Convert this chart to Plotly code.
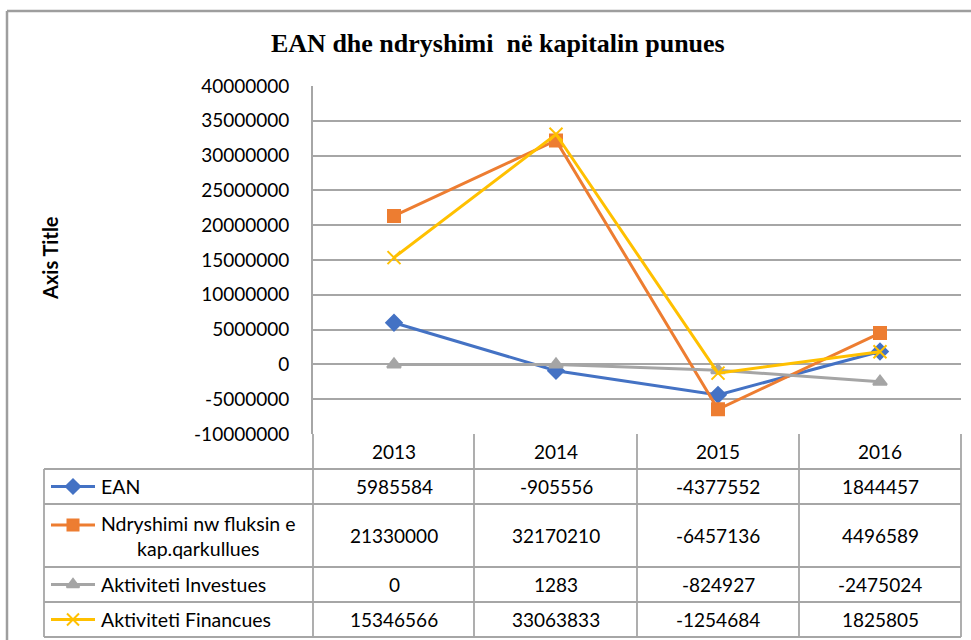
import plotly.graph_objects as go

# ---------------- data ----------------
years = ["2013", "2014", "2015", "2016"]
series_names = ["EAN", "Ndryshimi nw fluksin e kap.qarkullues",
                "Aktiviteti Investues", "Aktiviteti Financues"]
table_labels = ["EAN", "Ndryshimi nw fluksin e<br>kap.qarkullues",
                "Aktiviteti Investues", "Aktiviteti Financues"]
ean = [5985584, -905556, -4377552, 1844457]
ndryshimi = [21330000, 32170210, -6457136, 4496589]
investues = [0, 1283, -824927, -2475024]
financues = [15346566, 33063833, -1254684, 1825805]
y_ticks = [40000000, 35000000, 30000000, 25000000, 20000000, 15000000,
           10000000, 5000000, 0, -5000000, -10000000]
y_tick_labels = [str(v) for v in y_ticks]

title_text = "EAN dhe ndryshimi  në kapitalin punues"
axis_title = "Axis Title"

# ---------------- styling / layout ----------------
W, H = 971, 640
colors = ["#4472C4", "#ED7D31", "#A5A5A5", "#FFC000"]
symbols = ["diamond", "square", "triangle-up", "x-thin-open"]
msizes = [12, 12, 12, 13]
grid_col = "#A6A6A6"
font_fam = "Lato, 'Open Sans', sans-serif"
FS = 19

def px(x):
    return x / W

def py(y):
    return 1 - y / H

plot_l, plot_r, plot_t, plot_b = 313, 961, 86, 434
tab_l = 44
row_lines = [469, 504, 567, 602, 637]
col_lines = [313, 474, 637, 799, 961]

series = [ean, ndryshimi, investues, financues]
xs = list(range(len(years)))

fig = go.Figure()
for name, vals, c, s, ms in zip(series_names, series, colors, symbols, msizes):
    fig.add_trace(go.Scatter(
        x=xs, y=vals, mode="lines+markers", name=name,
        line=dict(color=c, width=3),
        marker=dict(symbol=s, size=ms, color=c,
                    line=dict(color=c, width=2)),
        showlegend=False, xaxis="x", yaxis="y"))

# legend keys inside the table (hidden helper axes in pixel units)
row_key_y = [486.5, 525, 584.5, 619.5]
for c, s, ms, ky in zip(colors, symbols, msizes, row_key_y):
    fig.add_trace(go.Scatter(
        x=[51, 95], y=[ky, ky], mode="lines", line=dict(color=c, width=3),
        showlegend=False, hoverinfo="skip", xaxis="x2", yaxis="y2"))
    fig.add_trace(go.Scatter(
        x=[73], y=[ky], mode="markers",
        marker=dict(symbol=s, size=ms - 1, color=c, line=dict(color=c, width=2)),
        showlegend=False, hoverinfo="skip", xaxis="x2", yaxis="y2"))

shapes = []
line_style = dict(color=grid_col, width=1.8)
# outer chart border
shapes.append(dict(type="line", xref="paper", yref="paper",
                   x0=px(7), x1=px(W + 5), y0=py(11), y1=py(11),
                   line=dict(color="#9E9E9E", width=2.5)))
shapes.append(dict(type="line", xref="paper", yref="paper",
                   x0=px(7), x1=px(7), y0=py(11), y1=py(H + 5),
                   line=dict(color="#9E9E9E", width=2.5)))
# table horizontal lines
for ry in row_lines:
    shapes.append(dict(type="line", xref="paper", yref="paper",
                       x0=px(tab_l), x1=px(plot_r), y0=py(ry), y1=py(ry),
                       line=line_style))
# table vertical lines
for cx in col_lines:
    shapes.append(dict(type="line", xref="paper", yref="paper",
                       x0=px(cx), x1=px(cx), y0=py(plot_b), y1=py(row_lines[-1]),
                       line=line_style))
shapes.append(dict(type="line", xref="paper", yref="paper",
                   x0=px(tab_l), x1=px(tab_l), y0=py(row_lines[0]), y1=py(row_lines[-1]),
                   line=line_style))

annotations = []
annotations.append(dict(text="<b>" + title_text + "</b>", xref="paper", yref="paper",
                        x=px(498), y=py(44), xanchor="center", yanchor="middle",
                        showarrow=False,
                        font=dict(family="'Liberation Serif', 'Times New Roman', serif",
                                  size=26, color="#000000")))
annotations.append(dict(text="<b>" + axis_title + "</b>", xref="paper", yref="paper",
                        x=px(50), y=py(258), xanchor="center", yanchor="middle",
                        textangle=-90, showarrow=False,
                        font=dict(family=font_fam, size=20, color="#000000")))
# header years
for i, yr in enumerate(years):
    annotations.append(dict(text=yr, xref="x", yref="paper", x=i,
                            y=py((plot_b + row_lines[0]) / 2), xanchor="center",
                            yanchor="middle", showarrow=False,
                            font=dict(family=font_fam, size=FS, color="#000000")))
# rows
row_centers = [(row_lines[k] + row_lines[k + 1]) / 2 for k in range(4)]
for r, (lab, vals) in enumerate(zip(table_labels, series)):
    ly = row_centers[r]
    annotations.append(dict(text=lab, xref="paper", yref="paper", x=px(99),
                            y=py(ly), xanchor="left", yanchor="middle",
                            align="center", showarrow=False,
                            font=dict(family=font_fam, size=FS + 0.5, color="#000000")))
    for i, v in enumerate(vals):
        annotations.append(dict(text=str(v), xref="x", yref="paper", x=i,
                                y=py(ly), xanchor="center", yanchor="middle",
                                showarrow=False,
                                font=dict(family=font_fam, size=FS, color="#000000")))

fig.update_layout(
    width=W, height=H,
    margin=dict(l=0, r=0, t=0, b=0),
    paper_bgcolor="white", plot_bgcolor="rgba(0,0,0,0)",
    xaxis=dict(domain=[px(plot_l), px(plot_r)], range=[-0.5, 3.5],
               showgrid=False, zeroline=False, showticklabels=False,
               showline=False, fixedrange=True),
    yaxis=dict(domain=[py(plot_b), py(plot_t)], range=[-10000000, 40000000],
               tickvals=y_ticks, ticktext=y_tick_labels,
               showgrid=True, gridcolor=grid_col, gridwidth=1.8,
               zeroline=True, zerolinecolor=grid_col, zerolinewidth=1.8,
               showline=True, linecolor=grid_col, linewidth=1.8,
               ticks="", ticklabelstandoff=18, automargin=False,
               tickfont=dict(family=font_fam, size=FS, color="#000000")),
    xaxis2=dict(domain=[0, 1], range=[0, W], visible=False, anchor="y2",
                fixedrange=True),
    yaxis2=dict(domain=[0, 1], range=[H, 0], visible=False, anchor="x2",
                fixedrange=True),
    shapes=shapes, annotations=annotations,
)

fig.write_html(
    "out.html",
    config={"displayModeBar": False},
    post_script="document.documentElement.style.margin='0';"
                "document.documentElement.style.overflow='hidden';"
                "document.body.style.margin='0';"
                "document.body.style.padding='0';"
                "document.body.style.overflow='hidden';",
)
